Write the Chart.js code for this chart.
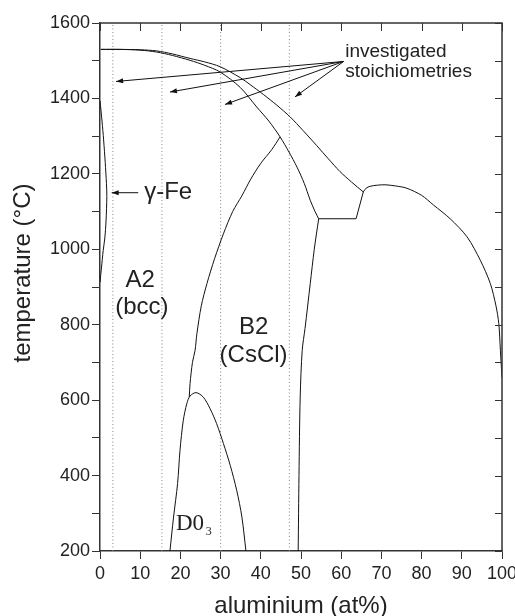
<!DOCTYPE html>
<html>
<head>
<meta charset="utf-8">
<script src="https://cdn.jsdelivr.net/npm/chart.js@4.4.1/dist/chart.umd.min.js"></script>
<style>
html, body { margin: 0; padding: 0; background: #fff; }
</style>
</head>
<body>
<canvas id="chart" width="515" height="616"></canvas>
<script>
// axis ticks
const xTickValues = [0, 10, 20, 30, 40, 50, 60, 70, 80, 90, 100];
const yTickValues = [200, 300, 400, 500, 600, 700, 800, 900, 1000, 1100, 1200, 1300, 1400, 1500, 1600];
const yLabelled = [200, 400, 600, 800, 1000, 1200, 1400, 1600];

// phase boundaries, [at% Al, temperature °C]
const liquidus = [[0.2, 1530], [5, 1530], [10, 1529], [14.1, 1526], [18, 1518], [22.4, 1506], [26, 1497], [29.9, 1484],
  [34.9, 1455], [37.3, 1437], [40.7, 1410], [44, 1382], [47.3, 1351], [50.5, 1315], [53.9, 1275], [56.8, 1240],
  [59.7, 1206], [62.6, 1178], [65.5, 1152]];
const solidus = [[0.2, 1530], [5, 1530], [10, 1528], [14.1, 1523], [18, 1514], [22.4, 1501], [26, 1488], [29.9, 1470],
  [34.9, 1429], [39, 1377], [42, 1340], [44.8, 1298], [47, 1258], [49, 1218], [50.8, 1175], [52.3, 1130],
  [53.5, 1100], [54.4, 1081]];
const eutectoidStep = [[54.4, 1081], [63.7, 1081], [65.5, 1152]];
const alLiquidus = [[65.5, 1152], [66.2, 1162], [67.2, 1167], [69, 1170], [70.9, 1171], [73.5, 1168], [76.3, 1162],
  [80, 1143], [83, 1117], [87.1, 1081], [91.3, 1033], [94.6, 971], [97.1, 909], [98.5, 850], [99.2, 803],
  [99.6, 732], [100, 660]];
const b2Right = [[54.4, 1081], [53.3, 1000], [52.3, 909], [51, 790], [50.3, 732], [49.8, 608], [49.5, 400], [49.3, 200]];
const a2b2Line = [[22.2, 608], [22.4, 644], [23, 700], [23.65, 732], [24.1, 776], [25.2, 850], [26.6, 909],
  [28.5, 975], [30.7, 1041], [33, 1100], [35.3, 1142], [37.5, 1186], [40, 1228], [42.7, 1264], [44.8, 1298]];
const d03Dome = [[17.4, 200], [18.3, 290], [19.3, 379], [19.9, 467], [20.7, 545], [21.6, 591], [22.4, 611],
  [23.9, 620], [25.7, 608], [27.4, 577], [29, 538], [30.7, 485], [32.4, 427], [34, 361], [35.3, 290], [36.3, 200]];
const gammaLoop = [[0, 1394], [0.5, 1340], [0.9, 1290], [1.3, 1230], [1.6, 1175], [1.7, 1140], [1.5, 1075],
  [1.2, 1030], [0.8, 997], [0.35, 950], [0, 912]];

// investigated compositions (dotted) and arrows
const stoichX = [3.2, 15.4, 30, 47.1];
const arrowFrom = [60.6, 1498];
const arrowTargets = [[4.0, 1445], [17.4, 1417], [31.1, 1384], [48.5, 1404]];
const gammaArrow = [[9.5, 1150], [2.9, 1150]];

const pts = arr => arr.map(p => ({ x: p[0], y: p[1] }));

function curve(arr, tension) {
    return {
        data: pts(arr),
        showLine: true,
        borderColor: '#111',
        borderWidth: 1,
        pointRadius: 0,
        tension: tension
    };
}

const datasets = [
    curve(liquidus, 0.3),
    curve(solidus, 0.3),
    curve(eutectoidStep, 0),
    curve(alLiquidus, 0.3),
    curve(b2Right, 0.3),
    curve(a2b2Line, 0.3),
    curve(d03Dome, 0.3),
    curve(gammaLoop, 0.3)
];
stoichX.forEach(v => {
    datasets.push({
        data: pts([[v, 200], [v, 1600]]),
        showLine: true,
        borderColor: '#888',
        borderWidth: 1,
        borderDash: [1, 2.5],
        pointRadius: 0
    });
});

const labels = [
    { text: 'A2', x: 10.0, y: 918, font: '24px "Liberation Sans"' },
    { text: '(bcc)', x: 10.4, y: 847, font: '24px "Liberation Sans"' },
    { text: 'B2', x: 38.2, y: 794, font: '24px "Liberation Sans"' },
    { text: '(CsCl)', x: 38.2, y: 719, font: '24px "Liberation Sans"' },
    { text: 'γ-Fe', x: 11.0, y: 1150, font: '24px "Liberation Sans"', align: 'left' },
    { text: 'investigated', x: 61.0, y: 1523, font: '19px "Liberation Sans"', align: 'left' },
    { text: 'stoichiometries', x: 61.0, y: 1470, font: '19px "Liberation Sans"', align: 'left' },
    { text: 'D0', x: 18.9, y: 272, font: '23px "Liberation Serif"', align: 'left' },
    { text: '3', x: 26.3, y: 250, font: '12px "Liberation Serif"', align: 'left' }
];

function arrow(ctx, x0, y0, x1, y1) {
    const a = Math.atan2(y1 - y0, x1 - x0);
    ctx.beginPath();
    ctx.moveTo(x0, y0);
    ctx.lineTo(x1, y1);
    ctx.stroke();
    ctx.beginPath();
    ctx.moveTo(x1, y1);
    ctx.lineTo(x1 - 7 * Math.cos(a) + 2.5 * Math.sin(a), y1 - 7 * Math.sin(a) - 2.5 * Math.cos(a));
    ctx.lineTo(x1 - 7 * Math.cos(a) - 2.5 * Math.sin(a), y1 - 7 * Math.sin(a) + 2.5 * Math.cos(a));
    ctx.closePath();
    ctx.fill();
}

const annotate = {
    id: 'annotate',
    afterDraw(chart) {
        const { ctx, chartArea, scales: { x, y } } = chart;
        ctx.save();
        // top and right frame with inward ticks
        ctx.strokeStyle = '#333';
        ctx.lineWidth = 1.5;
        ctx.beginPath();
        ctx.moveTo(chartArea.left, chartArea.top);
        ctx.lineTo(chartArea.right, chartArea.top);
        ctx.lineTo(chartArea.right, chartArea.bottom);
        ctx.stroke();
        ctx.lineWidth = 1;
        xTickValues.forEach(v => {
            const px = Math.round(x.getPixelForValue(v)) + 0.5;
            ctx.beginPath();
            ctx.moveTo(px, chartArea.top);
            ctx.lineTo(px, chartArea.top + 8);
            ctx.stroke();
        });
        yTickValues.forEach(v => {
            const py = Math.round(y.getPixelForValue(v)) + 0.5;
            ctx.beginPath();
            ctx.moveTo(chartArea.right, py);
            ctx.lineTo(chartArea.right - 7, py);
            ctx.stroke();
        });

        // arrows
        ctx.strokeStyle = '#111';
        ctx.fillStyle = '#111';
        ctx.lineWidth = 1;
        const ox = x.getPixelForValue(arrowFrom[0]), oy = y.getPixelForValue(arrowFrom[1]);
        arrowTargets.forEach(t => {
            arrow(ctx, ox, oy, x.getPixelForValue(t[0]), y.getPixelForValue(t[1]));
        });
        arrow(ctx, x.getPixelForValue(gammaArrow[0][0]), y.getPixelForValue(gammaArrow[0][1]),
            x.getPixelForValue(gammaArrow[1][0]), y.getPixelForValue(gammaArrow[1][1]));

        // region labels
        ctx.fillStyle = '#222';
        ctx.textBaseline = 'middle';
        labels.forEach(l => {
            ctx.font = l.font;
            ctx.textAlign = l.align || 'center';
            ctx.fillText(l.text, x.getPixelForValue(l.x), y.getPixelForValue(l.y));
        });

        // y axis title
        ctx.font = '24px "Liberation Sans"';
        ctx.textAlign = 'center';
        ctx.translate(23, 273);
        ctx.rotate(-Math.PI / 2);
        ctx.fillText('temperature (°C)', 0, 0);
        ctx.restore();
    }
};

new Chart(document.getElementById('chart'), {
    type: 'scatter',
    data: { datasets: datasets },
    plugins: [annotate],
    options: {
        responsive: false,
        animation: false,
        layout: { padding: { top: 23, right: 13, bottom: 0, left: 0 } },
        plugins: { legend: { display: false }, tooltip: { enabled: false } },
        scales: {
            x: {
                type: 'linear',
                min: 0,
                max: 100,
                afterBuildTicks: s => { s.ticks = xTickValues.map(v => ({ value: v })); },
                afterFit: s => { s.height = 65; s.paddingLeft = 0; s.paddingRight = 0; },
                ticks: {
                    color: '#222',
                    padding: 4,
                    maxRotation: 0,
                    font: { family: 'Liberation Sans', size: 18 }
                },
                grid: { drawOnChartArea: false, tickLength: 8, color: '#333' },
                border: { color: '#333', width: 1.5 },
                title: {
                    display: true,
                    text: 'aluminium (at%)',
                    color: '#222',
                    padding: 0,
                    font: { family: 'Liberation Sans', size: 24, lineHeight: 0.8 }
                }
            },
            y: {
                type: 'linear',
                min: 200,
                max: 1600,
                afterBuildTicks: s => { s.ticks = yTickValues.map(v => ({ value: v })); },
                afterFit: s => { s.width = 100; s.paddingTop = 0; s.paddingBottom = 0; },
                ticks: {
                    color: '#222',
                    padding: 2,
                    font: { family: 'Liberation Sans', size: 18 },
                    callback: v => yLabelled.includes(v) ? String(v) : ''
                },
                grid: { drawOnChartArea: false, tickLength: 8, color: '#333' },
                border: { color: '#333', width: 1.5 }
            }
        }
    }
});
</script>
</body>
</html>
